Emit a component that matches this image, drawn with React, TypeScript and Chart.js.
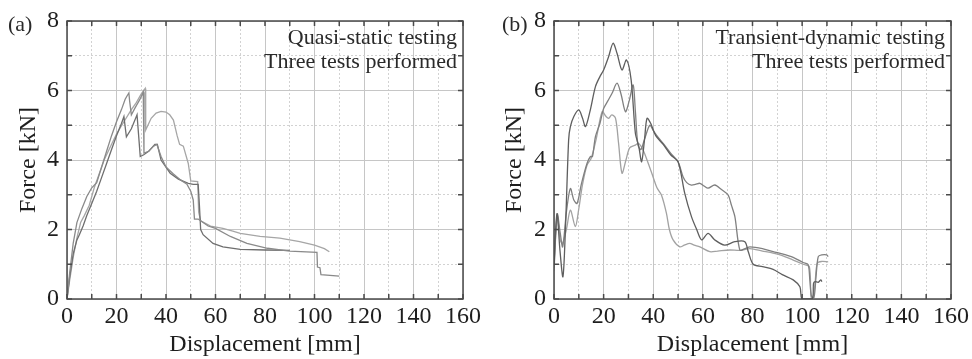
import React, { useEffect, useRef } from 'react';
import { Chart, registerables } from 'chart.js';

Chart.register(...registerables);

// ---------- Shared axis settings ----------
const xMin = 0;
const xMax = 160;
const xStep = 10;
const yMin = 0;
const yMax = 8;
const yStep = 1;
const xTitle = 'Displacement [mm]';
const yTitle = 'Force [kN]';

// ---------- Panel (a): quasi-static testing ----------
const qsLabel = '(a)';
const qsNote = ['Quasi-static testing', 'Three tests performed'];

const qsX1 = [0, 1, 2.5, 4, 6, 8, 10, 12, 14, 16, 18, 20, 22, 23.5, 24.3, 25, 25.3, 26, 27.5, 29.5, 30.8, 31.1, 33, 35, 36.3, 38, 40, 43, 46, 48.5, 50, 51, 51.5, 53, 54, 57, 60, 66, 72.7, 81, 90, 101, 101.2, 102.2, 102.6, 110];
const qsF1 = [0, 0.7, 1.6, 2.2, 2.6, 2.95, 3.2, 3.35, 3.8, 4.25, 4.7, 5.1, 5.45, 5.75, 5.85, 5.93, 5.7, 5.3, 5.5, 5.75, 5.95, 4.2, 4.25, 4.4, 4.45, 4.1, 3.8, 3.6, 3.42, 3.3, 3.1, 2.85, 2.3, 2.3, 2.25, 2.1, 2.03, 1.8, 1.6, 1.46, 1.38, 1.34, 0.92, 0.9, 0.7, 0.66];

const qsX2 = [0, 1, 2.5, 4, 5, 6.5, 8, 10, 12, 14, 16, 18, 20, 22, 23, 24, 26, 28.3, 29.6, 31, 33, 35.5, 36.5, 38, 41.7, 45, 49, 51, 53, 53.5, 54, 55, 59, 63, 70, 80, 90];
const qsF2 = [0, 0.6, 1.3, 1.7, 1.85, 2.1, 2.4, 2.75, 3.1, 3.5, 3.9, 4.3, 4.7, 5.05, 5.25, 4.67, 4.9, 5.3, 4.1, 4.15, 4.25, 4.45, 4.45, 4.0, 3.62, 3.45, 3.33, 3.3, 3.3, 2.7, 2.0, 1.85, 1.6, 1.5, 1.43, 1.41, 1.4];

const qsX3 = [0, 1, 2.5, 4, 5.5, 7, 9, 11, 13, 15, 17, 20, 23, 26, 28, 30, 31, 31.6, 31.8, 34, 36, 38, 40, 41.5, 43, 44.5, 45.5, 47, 49, 50, 52.8, 53.2, 54, 58, 63, 67, 70, 78, 86, 94, 100, 104, 106];
const qsF3 = [0, 0.5, 1.2, 1.75, 2.2, 2.4, 2.7, 3.2, 3.6, 4.0, 4.3, 4.75, 5.1, 5.45, 5.65, 5.9, 6.0, 6.06, 4.86, 5.2, 5.35, 5.4, 5.38, 5.3, 5.15, 4.7, 4.45, 4.4, 3.9, 3.4, 3.38, 2.5, 2.25, 2.1, 2.03, 1.95, 1.89, 1.8, 1.75, 1.65, 1.55, 1.45, 1.36];

// ---------- Panel (b): transient-dynamic testing ----------
const tdLabel = '(b)';
const tdNote = ['Transient-dynamic testing', 'Three tests performed'];

const tdX1 = [0, 1.2, 2.4, 3.6, 4.6, 5.9, 6.6, 8, 10, 11.5, 12.7, 14.5, 16.7, 18.5, 20, 22, 23.8, 25.4, 27.4, 29.2, 31.1, 32.8, 34.2, 35.3, 36.5, 37.5, 39, 41, 44, 47, 50, 52.7, 55.4, 57.5, 59.5, 62.1, 64.8, 68.8, 72.9, 76.9, 78.3, 80.3, 84, 88.3, 92, 96.4, 99.1, 100, 104, 104.6, 105.2, 106.5, 107.5, 108];
const tdF1 = [1.0, 2.45, 1.4, 0.64, 2.0, 4.58, 4.96, 5.25, 5.44, 5.2, 4.96, 5.4, 6.11, 6.4, 6.59, 6.97, 7.36, 7.07, 6.59, 6.88, 6.3, 4.77, 4.38, 3.95, 4.6, 5.2, 5.05, 4.7, 4.45, 4.15, 3.95, 3.04, 2.37, 2.0, 1.7, 1.89, 1.7, 1.55, 1.65, 1.65, 1.36, 1.0, 0.93, 0.85, 0.7, 0.55, 0.35, 0, 0, 0.45, 0.5, 0.48, 0.55, 0.5];

const tdX2 = [0, 1.3, 2.5, 3.5, 5, 6.6, 8, 9.3, 11, 13.3, 14.7, 15.5, 16.7, 18.5, 20, 21.7, 23.4, 25.4, 27, 28.8, 30.3, 31.9, 32.8, 33.8, 35, 36.5, 38.6, 40, 42, 44, 47, 50, 52, 53.5, 55.4, 57, 58.8, 60.5, 62.1, 64.8, 67.5, 70.2, 71.5, 72.9, 74.9, 77, 79, 84, 88.3, 92, 96.4, 100.4, 102.4, 103.1, 103.8, 104.8, 105.6, 106.5, 107.9, 109.9, 110.5];
const tdF2 = [0.9, 2.45, 1.9, 1.5, 2.5, 3.18, 2.85, 2.75, 3.3, 3.9, 4.1, 4.1, 4.67, 5.05, 5.48, 5.7, 5.92, 6.21, 5.9, 5.39, 5.7, 6.16, 5.4, 4.45, 4.3, 4.6, 5.0, 4.85, 4.65, 4.48, 4.2, 3.95, 3.52, 3.35, 3.28, 3.3, 3.33, 3.25, 3.19, 3.28, 3.15, 2.99, 2.7, 2.37, 1.41, 1.45, 1.5, 1.45, 1.36, 1.3, 1.2, 1.05, 0.99, 0.55, 0.07, 0.05, 0.64, 1.22, 1.27, 1.27, 1.22];

const tdX3 = [0, 1.3, 2.5, 3.4, 5, 6.6, 8.6, 10, 11.5, 13.3, 15, 17, 19.4, 21, 22, 23.3, 24.8, 26, 27.4, 29, 30.5, 32.8, 34, 35.9, 38, 39.9, 41.5, 43.3, 45.3, 46.5, 48, 50.7, 52.5, 54.7, 56.5, 58.8, 62.8, 66, 70.9, 75, 79, 84, 88.3, 92, 96.4, 100.4, 102.9, 103.6, 104.4, 105.2, 106.1, 107.9, 110.5];
const tdF3 = [0.8, 2.4, 1.7, 1.6, 2.0, 2.56, 2.08, 2.6, 3.3, 3.85, 4.05, 4.6, 5.39, 5.25, 5.2, 5.3, 5.2, 4.5, 3.62, 4.0, 4.35, 4.43, 4.48, 4.29, 3.9, 3.52, 3.2, 2.99, 2.47, 2.0, 1.7, 1.5, 1.55, 1.6, 1.55, 1.5, 1.36, 1.38, 1.41, 1.4, 1.45, 1.38, 1.32, 1.25, 1.12, 1.0, 0.93, 0.05, 0.05, 0.45, 1.03, 1.08, 1.07];

const SERIF = '"Liberation Serif", "Times New Roman", serif';

type Series = { xs: number[]; ys: number[]; color: string };

const framePlugin = {
  id: 'frameAndNotes',
  afterDatasetsDraw(chart: any, _args: any, opts: any) {
    const { ctx, chartArea, scales } = chart;
    const { left, right, top, bottom } = chartArea;
    const xs = scales.x;
    const ys = scales.y;
    ctx.save();
    ctx.strokeStyle = '#4a4a4a';
    ctx.lineWidth = 1.5;
    ctx.strokeRect(left, top, right - left, bottom - top);
    ctx.beginPath();
    for (const t of xs.ticks) {
      const px = xs.getPixelForValue(t.value);
      ctx.moveTo(px, bottom);
      ctx.lineTo(px, bottom - 5);
      ctx.moveTo(px, top);
      ctx.lineTo(px, top + 5);
    }
    for (const t of ys.ticks) {
      const py = ys.getPixelForValue(t.value);
      ctx.moveTo(left, py);
      ctx.lineTo(left + 5, py);
      ctx.moveTo(right, py);
      ctx.lineTo(right - 5, py);
    }
    ctx.stroke();

    ctx.fillStyle = '#2a2a2a';
    ctx.font = `22px ${SERIF}`;
    ctx.textAlign = 'right';
    ctx.textBaseline = 'middle';
    (opts.note || []).forEach((s: string, i: number) => {
      ctx.fillText(s, right - 6, top + 17 + i * 24);
    });
    ctx.textAlign = 'left';
    ctx.fillText(opts.label || '', opts.labelX || 8, top + 4);
    ctx.restore();
  },
};

function Panel(props: {
  series: Series[];
  note: string[];
  label: string;
  labelX: number;
  plotLeft: number;
  padRight: number;
  smooth: number;
  left: number;
}) {
  const ref = useRef<HTMLCanvasElement | null>(null);
  useEffect(() => {
    if (!ref.current) return;
    const chart = new Chart(ref.current, {
      type: 'scatter',
      data: {
        datasets: props.series.map((s) => ({
          data: s.xs.map((x, i) => ({ x, y: s.ys[i] })),
          showLine: true,
          borderColor: s.color,
          backgroundColor: s.color,
          borderWidth: 1.3,
          pointRadius: 0,
          tension: props.smooth,
        })),
      },
      options: {
        animation: false,
        responsive: false,
        devicePixelRatio: 1,
        layout: { padding: { left: 0, top: 21, right: props.padRight, bottom: 0 } },
        plugins: {
          legend: { display: false },
          tooltip: { enabled: false },
          frameAndNotes: { note: props.note, label: props.label, labelX: props.labelX },
        } as any,
        scales: {
          x: {
            type: 'linear',
            min: xMin,
            max: xMax,
            afterFit: (s: any) => {
              s.height = 60;
              s.paddingLeft = 0;
              s.paddingRight = 0;
            },
            ticks: {
              stepSize: xStep,
              autoSkip: false,
              maxRotation: 0,
              padding: 3,
              color: '#1e1e1e',
              font: { family: SERIF, size: 24 },
              callback: (v: any) => (Number(v) % 20 === 0 ? String(v) : ''),
            },
            grid: {
              drawTicks: false,
              lineWidth: 1,
              color: (c: any) => (c.tick && c.tick.value % 20 !== 0 ? '#d2d2d2' : '#c6c6c6'),
            },
            border: {
              display: false,
              dash: (c: any) => (c.tick && c.tick.value % 20 !== 0 ? [2, 2] : []),
            },
            title: {
              display: true,
              text: xTitle,
              color: '#1e1e1e',
              font: { family: SERIF, size: 24 },
              padding: { top: 0, bottom: 0 },
            },
          } as any,
          y: {
            type: 'linear',
            min: yMin,
            max: yMax,
            afterFit: (s: any) => {
              s.width = props.plotLeft;
              s.paddingTop = 0;
              s.paddingBottom = 0;
            },
            ticks: {
              stepSize: yStep,
              autoSkip: false,
              padding: 8,
              color: '#1e1e1e',
              font: { family: SERIF, size: 24 },
              callback: (v: any) => (Number(v) % 2 === 0 ? String(v) : ''),
            },
            grid: {
              drawTicks: false,
              lineWidth: 1,
              color: (c: any) => (c.tick && c.tick.value % 2 !== 0 ? '#d2d2d2' : '#c6c6c6'),
            },
            border: {
              display: false,
              dash: (c: any) => (c.tick && c.tick.value % 2 !== 0 ? [2, 2] : []),
            },
            title: {
              display: true,
              text: yTitle,
              color: '#1e1e1e',
              font: { family: SERIF, size: 24 },
              padding: { top: 14, bottom: 0 },
            },
          } as any,
        },
      },
      plugins: [framePlugin],
    });
    return () => chart.destroy();
  }, []);
  return (
    <canvas
      ref={ref}
      width={486}
      height={359}
      style={{ position: 'absolute', left: props.left, top: 0, width: 486, height: 359 }}
    />
  );
}

export default function App() {
  const qsSeries: Series[] = [
    { xs: qsX1, ys: qsF1, color: '#8a8a8a' },
    { xs: qsX2, ys: qsF2, color: '#6e6e6e' },
    { xs: qsX3, ys: qsF3, color: '#a6a6a6' },
  ];
  const tdSeries: Series[] = [
    { xs: tdX1, ys: tdF1, color: '#5e5e5e' },
    { xs: tdX2, ys: tdF2, color: '#808080' },
    { xs: tdX3, ys: tdF3, color: '#a2a2a2' },
  ];
  return (
    <div style={{ position: 'absolute', left: 0, top: 0, width: 972, height: 359, background: '#fff' }}>
      <Panel series={qsSeries} note={qsNote} label={qsLabel} labelX={8} plotLeft={67} padRight={23} smooth={0} left={0} />
      <Panel series={tdSeries} note={tdNote} label={tdLabel} labelX={16} plotLeft={68} padRight={21} smooth={0.3} left={486} />
    </div>
  );
}
